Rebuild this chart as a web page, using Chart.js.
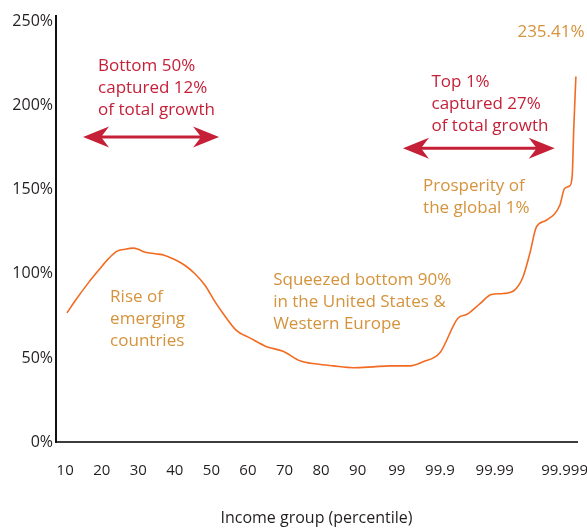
<!DOCTYPE html>
<html>
<head>
<meta charset="utf-8">
<script src="https://cdn.jsdelivr.net/npm/chart.js@4/dist/chart.umd.min.js"></script>
<style>
  html, body { margin: 0; padding: 0; background: #fff; }
  #wrap { width: 587px; height: 529px; }
</style>
</head>
<body>
<div id="wrap"><canvas id="chart"></canvas></div>
<script>
// ---------------------------------------------------------------
// Elephant curve: income growth by global percentile group.
// The x axis is stretched at the top end, so each tick label sits
// at its own position on a linear scale.
// ---------------------------------------------------------------

const tickLabels = ['10', '20', '30', '40', '50', '60', '70', '80', '90', '99', '99.9', '99.99', '99.999'];
const tickPos = [10, 20, 30, 40, 50, 60, 70, 80, 90, 100.7, 112.5, 127.5, 146.6];
const yTicks = [0, 50, 100, 150, 200, 250];

const curveX = [10.5, 12.7, 16.4, 19.1, 21.8, 24.1, 26.4, 28.7, 30.0, 31.9, 34.6, 37.3, 40.1, 42.8, 45.5,
  48.3, 50.8, 53.2, 56.9, 60.6, 65.1, 69.6, 74.2, 78.8, 83.3, 88.8, 94.2, 98.8, 104.3, 107.9, 112.5,
  117.5, 119.8, 123.4, 126.6, 129.8, 133.0, 135.2, 137.1, 138.9, 141.6, 145.3, 146.6, 148.0, 148.7,
  149.1, 149.7];
const curveY = [76.8, 83.9, 94.8, 102.0, 108.9, 113.4, 114.7, 115.3, 114.6, 112.9, 112.0, 111.0, 108.4,
  105.0, 100.1, 93.1, 84.1, 76.4, 66.2, 61.8, 56.7, 54.0, 48.3, 46.4, 45.3, 44.2, 44.7, 45.3, 45.3,
  47.7, 53.1, 73.8, 75.8, 82.2, 87.7, 88.3, 90.5, 98.0, 112.2, 127.9, 131.9, 140.8, 150.8, 152.4,
  158.7, 185.6, 217.4];

const RED = '#c52038';
const GOLD = '#d4933c';
const LINE = '#f26b22';
const INK = '#231f20';

// text notes: x / y of the first line's start (data units)
const notes = [
  { lines: ['Bottom 50%', 'captured 12%', 'of total growth'], x: 19.0, y: 220.8, color: RED },
  { lines: ['Top 1%', 'captured 27%', 'of total growth'], x: 110.2, y: 211.2, color: RED },
  { lines: ['Prosperity of', 'the global 1%'], x: 107.9, y: 149.3, color: GOLD },
  { lines: ['Rise of', 'emerging', 'countries'], x: 22.3, y: 83.5, color: GOLD },
  { lines: ['Squeezed bottom 90%', 'in the United States &', 'Western Europe'], x: 66.9, y: 93.1, color: GOLD },
  { lines: ['235.41%'], x: 133.7, y: 240.9, color: GOLD }
];

// double-headed arrows: from x1 to x2 at height y
const arrows = [
  { x1: 14.9, x2: 52.1, y: 181.4 },
  { x1: 102.4, x2: 143.9, y: 174.8 }
];

function drawHead(ctx, tipX, y, dir) {
  // dir = +1 points right, -1 points left
  ctx.beginPath();
  ctx.moveTo(tipX, y);
  ctx.lineTo(tipX - dir * 26, y - 10.5);
  ctx.lineTo(tipX - dir * 18, y);
  ctx.lineTo(tipX - dir * 26, y + 10.5);
  ctx.closePath();
  ctx.fill();
}

const notesPlugin = {
  id: 'notes',
  afterDatasetsDraw(chart) {
    const { ctx, scales: { x, y } } = chart;
    ctx.save();
    ctx.font = '17px "Open Sans"';
    ctx.textAlign = 'left';
    ctx.textBaseline = 'alphabetic';
    notes.forEach(n => {
      ctx.fillStyle = n.color;
      const px = x.getPixelForValue(n.x);
      const py = y.getPixelForValue(n.y);
      n.lines.forEach((t, i) => ctx.fillText(t, px, py + i * 22));
    });

    ctx.fillStyle = RED;
    ctx.strokeStyle = RED;
    ctx.lineWidth = 3;
    arrows.forEach(a => {
      const l = x.getPixelForValue(a.x1);
      const r = x.getPixelForValue(a.x2);
      const py = y.getPixelForValue(a.y);
      ctx.beginPath();
      ctx.moveTo(l + 16, py);
      ctx.lineTo(r - 16, py);
      ctx.stroke();
      drawHead(ctx, l, py, -1);
      drawHead(ctx, r, py, 1);
    });
    ctx.restore();
  }
};

new Chart(document.getElementById('chart'), {
  type: 'line',
  data: {
    datasets: [{
      data: curveX.map((v, i) => ({ x: v, y: curveY[i] })),
      borderColor: LINE,
      borderWidth: 1.6,
      pointRadius: 0,
      cubicInterpolationMode: 'monotone',
      fill: false
    }]
  },
  options: {
    responsive: true,
    maintainAspectRatio: false,
    animation: false,
    layout: { padding: { top: 16, right: 10, left: 0, bottom: 0 } },
    plugins: { legend: { display: false }, tooltip: { enabled: false } },
    scales: {
      x: {
        type: 'linear',
        min: 7.5,
        max: 150,
        afterBuildTicks: s => { s.ticks = tickPos.map(v => ({ value: v })); },
        afterFit: s => { s.height = 87; s.paddingLeft = 0; s.paddingRight = 0; },
        ticks: {
          autoSkip: false,
          maxRotation: 0,
          padding: 20,
          color: INK,
          font: { family: 'Open Sans', size: 15 },
          callback: (v, i) => tickLabels[i]
        },
        grid: { display: false, drawTicks: false },
        border: { display: true, color: '#3d3d3d', width: 2 },
        title: {
          display: true,
          text: 'Income group (percentile)',
          color: INK,
          font: { family: 'Open Sans', size: 16 },
          padding: { top: 4, bottom: 1 }
        }
      },
      y: {
        min: 0,
        max: 253.4,
        afterBuildTicks: s => { s.ticks = yTicks.map(v => ({ value: v })); },
        afterFit: s => { s.width = 56; s.paddingTop = 0; s.paddingBottom = 0; },
        ticks: {
          padding: 3,
          color: INK,
          font: { family: 'Open Sans', size: 16 },
          callback: v => v + '%'
        },
        grid: { display: false, drawTicks: false },
        border: { display: true, color: '#111', width: 2 }
      }
    }
  },
  plugins: [notesPlugin]
});
</script>
</body>
</html>
